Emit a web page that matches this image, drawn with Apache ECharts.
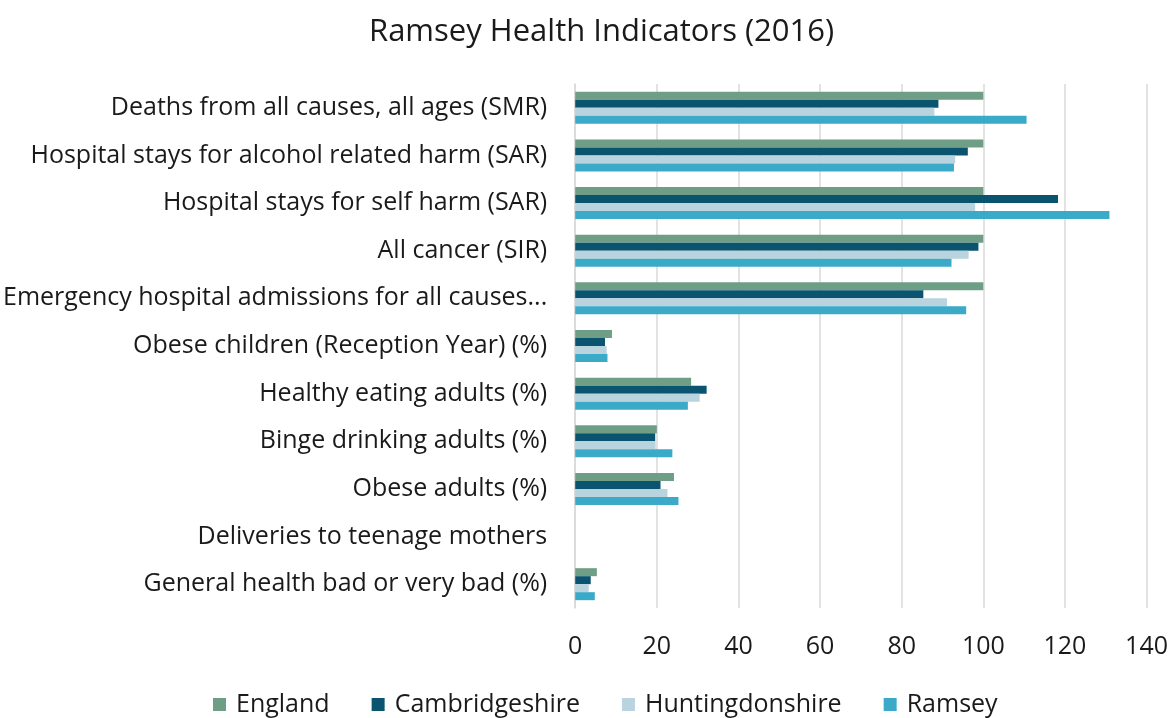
<!DOCTYPE html>
<html>
<head>
<meta charset="utf-8">
<script src="https://cdn.jsdelivr.net/npm/echarts@6/dist/echarts.min.js"></script>
<style>
html,body{margin:0;padding:0;background:#fff;}
#chart{width:1171px;height:718px;}
</style>
</head>
<body>
<div id="chart"></div>
<script>
var categories = [
	"Deaths from all causes, all ages (SMR)",
	"Hospital stays for alcohol related harm (SAR)",
	"Hospital stays for self harm (SAR)",
	"All cancer (SIR)",
	"Emergency hospital admissions for all causes...",
	"Obese children (Reception Year) (%)",
	"Healthy eating adults (%)",
	"Binge drinking adults (%)",
	"Obese adults (%)",
	"Deliveries to teenage mothers",
	"General health bad or very bad (%)"
];
var england         = [100, 100, 100, 100, 100, 9.0, 28.4, 20.0, 24.2, null, 5.3];
var cambridgeshire  = [89.0, 96.2, 118.3, 98.8, 85.3, 7.3, 32.2, 19.6, 20.9, null, 3.8];
var huntingdonshire = [88.0, 93.1, 98.0, 96.4, 91.1, 7.7, 30.5, 19.7, 22.6, null, 3.3];
var ramsey          = [110.6, 92.8, 130.9, 92.2, 95.8, 7.9, 27.6, 23.8, 25.3, null, 4.8];
var xTicks = [0, 20, 40, 60, 80, 100, 120, 140];

var FONT = "'Open Sans', sans-serif";
var TXT = '#1a1a1a';
var chart = echarts.init(document.getElementById('chart'));

function barSeries(name, data, color){
	return {
		name: name,
		type: 'bar',
		data: data,
		barWidth: 8,
		barGap: '0%',
		itemStyle: {color: color},
		emphasis: {disabled: true}
	};
}

chart.setOption({
	animation: false,
	title: {
		text: 'Ramsey Health Indicators (2016)',
		left: 364,
		top: 12,
		textStyle: {fontFamily: FONT, fontSize: 31, fontWeight: 'normal', color: TXT}
	},
	legend: {
		bottom: -4,
		left: 208,
		itemWidth: 13,
		itemHeight: 13,
		itemGap: 42,
		icon: 'rect',
		textStyle: {fontFamily: FONT, fontSize: 25, color: TXT, padding: [0, 0, 0, 5]},
		data: ['England', 'Cambridgeshire', 'Huntingdonshire', 'Ramsey']
	},
	grid: {left: 574, right: 24, top: 84, bottom: 110},
	xAxis: {
		type: 'value',
		min: xTicks[0],
		max: xTicks[xTicks.length - 1],
		interval: 20,
		axisLine: {show: false},
		axisTick: {show: false},
		axisLabel: {fontFamily: FONT, fontSize: 25, color: TXT, margin: 26},
		splitLine: {lineStyle: {color: '#d9d9d9', width: 1.5}}
	},
	yAxis: {
		type: 'category',
		inverse: true,
		data: categories,
		axisLine: {lineStyle: {color: '#d9d9d9', width: 1.5}},
		axisTick: {show: false},
		axisLabel: {fontFamily: FONT, fontSize: 25, color: TXT, margin: 28}
	},
	series: [
		barSeries('England', england, '#6f9e87'),
		barSeries('Cambridgeshire', cambridgeshire, '#0b5470'),
		barSeries('Huntingdonshire', huntingdonshire, '#b9d3df'),
		barSeries('Ramsey', ramsey, '#3aaac8')
	]
});
</script>
</body>
</html>
